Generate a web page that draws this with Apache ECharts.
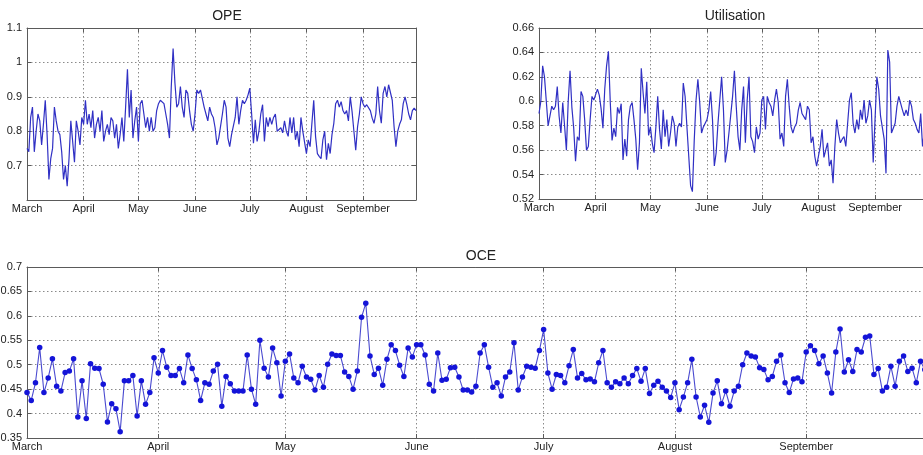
<!DOCTYPE html>
<html><head><meta charset="utf-8">
<script src="https://cdn.jsdelivr.net/npm/echarts@6/dist/echarts.min.js"></script>
<style>html,body{margin:0;padding:0;background:#fff}#c{width:923px;height:455px}</style>
</head><body><div id="c"></div>
<script>
const months = ['March','April','May','June','July','August','September'];
const monthDays = [31,30,31,30,31,31,30];
const opeTicks = [0.6, 1.1, 0.1];
const utilTicks = [0.52, 0.66, 0.02];
const oceTicks = [0.35, 0.7, 0.05];

const ope = [
0.75,0.74,0.84,0.87,0.74,0.80,0.85,0.83,0.76,0.82,
0.89,0.79,0.66,0.72,0.75,0.87,0.83,0.80,0.79,0.74,
0.66,0.70,0.64,0.72,0.83,0.77,0.71,0.83,0.80,0.76,
0.84,0.82,0.89,0.82,0.85,0.81,0.86,0.78,0.82,0.84,
0.80,0.86,0.77,0.80,0.82,0.79,0.84,0.83,0.78,0.82,
0.75,0.79,0.84,0.77,0.87,0.98,0.84,0.92,0.78,0.83,
0.87,0.77,0.88,0.89,0.85,0.81,0.84,0.80,0.84,0.80,
0.81,0.86,0.88,0.89,0.89,0.88,0.85,0.82,0.78,0.93,
1.04,0.94,0.87,0.88,0.93,0.87,0.84,0.92,0.91,0.86,
0.82,0.80,0.85,0.92,0.91,0.92,0.92,0.87,0.85,0.83,
0.87,0.85,0.84,0.81,0.76,0.78,0.78,0.85,0.89,0.87,0.78,
0.755,0.79,0.785,0.84,0.90,0.82,0.86,0.89,0.88,0.89,
0.905,0.925,0.85,0.765,0.833,0.77,0.80,0.85,0.877,0.77,
0.84,0.813,0.84,0.82,0.84,0.85,0.80,0.80,0.81,0.795,
0.83,0.80,0.785,0.84,0.795,0.84,0.775,0.80,0.755,0.84,
0.80,0.795,0.735,0.775,0.755,0.823,0.89,0.785,0.735,0.727,
0.72,0.775,0.80,0.717,0.765,0.735,0.79,0.823,0.88,0.89,
0.87,0.886,0.86,0.85,0.86,0.83,0.90,0.857,0.80,0.745,
0.813,0.85,0.90,0.88,0.87,0.877,0.88,0.86,0.838,0.823,
0.85,0.93,0.86,0.823,0.91,0.93,0.90,0.935,0.94,0.89,
0.813,0.755,0.80,0.82,0.833,0.88,0.90,0.877,0.85,0.833,
0.86,0.867,0.86];

const utilisation = [
0.59,0.60,0.629,0.62,0.60,0.58,0.588,0.596,0.593,0.596,
0.612,0.588,0.574,0.599,0.58,0.56,0.60,0.625,0.595,0.578,
0.551,0.571,0.568,0.608,0.604,0.585,0.56,0.563,0.585,0.604,
0.601,0.602,0.61,0.605,0.594,0.578,0.61,0.629,0.641,0.60,
0.568,0.578,0.571,0.595,0.59,0.598,0.552,0.569,0.555,0.585,
0.596,0.599,0.585,0.569,0.544,0.566,0.627,0.607,0.59,0.616,
0.572,0.579,0.566,0.558,0.579,0.604,0.577,0.561,0.593,0.571,
0.585,0.563,0.574,0.588,0.582,0.563,0.579,0.582,0.579,0.615,
0.604,0.579,0.555,0.531,0.526,0.568,0.601,0.618,0.599,0.574,
0.579,0.582,0.585,0.593,0.608,0.585,0.547,0.558,0.582,0.601,
0.62,0.593,0.55,0.56,0.574,0.574,0.604,0.625,0.596,0.571,
0.56,0.593,0.612,0.566,0.601,0.62,0.571,0.567,0.558,0.579,
0.569,0.574,0.601,0.604,0.577,0.604,0.599,0.596,0.588,0.601,
0.61,0.599,0.569,0.574,0.563,0.604,0.618,0.596,0.579,0.574,
0.579,0.582,0.593,0.599,0.59,0.59,0.585,0.596,0.593,0.566,
0.571,0.555,0.547,0.555,0.563,0.577,0.554,0.555,0.566,0.547,
0.552,0.533,0.563,0.585,0.574,0.566,0.569,0.571,0.563,0.582,
0.601,0.607,0.582,0.574,0.585,0.577,0.593,0.585,0.601,0.582,
0.588,0.601,0.593,0.55,0.585,0.62,0.61,0.588,0.588,0.569,
0.541,0.642,0.632,0.574,0.574,0.582,0.596,0.604,0.604,0.593,
0.588,0.593,0.588,0.601,0.596,0.585,0.582,0.577,0.574,0.59,
0.563,0.575,0.58,0.59];

const oce = [
0.443,0.427,0.463,0.535,0.443,0.473,0.512,0.456,0.446,0.484,
0.487,0.512,0.393,0.467,0.39,0.502,0.493,0.492,0.46,0.383,
0.42,0.41,0.363,0.467,0.467,0.478,0.395,0.467,0.419,0.443,
0.514,0.483,0.529,0.495,0.478,0.478,0.492,0.463,0.52,0.492,
0.469,0.427,0.463,0.46,0.487,0.501,0.415,0.476,0.461,0.446,
0.446,0.446,0.52,0.45,0.419,0.55,0.493,0.475,0.534,0.504,
0.436,0.507,0.522,0.473,0.463,0.497,0.475,0.47,0.448,0.478,
0.454,0.501,0.522,0.519,0.519,0.485,0.476,0.45,0.487,0.597,
0.626,0.518,0.48,0.493,0.458,0.511,0.541,0.529,0.499,0.476,
0.534,0.516,0.541,0.541,0.52,0.46,0.446,0.524,0.468,0.47,
0.494,0.495,0.475,0.448,0.448,0.444,0.456,0.524,0.541,0.495,
0.454,0.463,0.436,0.475,0.485,0.545,0.448,0.475,0.497,0.495,
0.493,0.529,0.572,0.483,0.45,0.48,0.478,0.463,0.498,0.531,
0.473,0.482,0.469,0.471,0.465,0.504,0.529,0.463,0.454,0.465,
0.461,0.473,0.461,0.478,0.492,0.466,0.492,0.441,0.458,0.466,
0.454,0.446,0.433,0.463,0.408,0.434,0.463,0.511,0.434,0.393,
0.417,0.382,0.442,0.467,0.42,0.446,0.415,0.446,0.456,0.5,
0.524,0.518,0.516,0.494,0.49,0.469,0.476,0.507,0.52,0.463,
0.443,0.471,0.473,0.465,0.526,0.539,0.529,0.502,0.518,0.483,
0.442,0.526,0.573,0.485,0.51,0.486,0.531,0.526,0.556,0.559,
0.48,0.492,0.446,0.454,0.497,0.456,0.507,0.518,0.486,0.493,
0.463,0.507,0.49,0.5];

const days = [];
months.forEach((m, i) => { for (let d = 1; d <= monthDays[i]; d++) days.push(m + ' ' + d); });
const isMonthStart = (idx, val) => / 1$/.test(val);

const FONT = 'Liberation Sans, Arial, sans-serif';
const frame = '#5a5a5a';
const dotted = { type: [1.5, 2.5], color: '#8a8a8a', width: 1 };

const grids = [
  { left: 27, top: 28, width: 389, height: 172, outerBoundsMode: 'none', containLabel: false },
  { left: 539, top: 28, width: 389, height: 171, outerBoundsMode: 'none', containLabel: false },
  { left: 27, top: 267, width: 902, height: 171, outerBoundsMode: 'none', containLabel: false }
];
const ticks = [opeTicks, utilTicks, oceTicks];

const xAxis = [], yAxis = [];
grids.forEach((g, gi) => {
  xAxis.push({
    type: 'category', gridIndex: gi, data: days, boundaryGap: false, position: 'bottom',
    axisLine: { lineStyle: { color: frame, width: 1 } },
    axisTick: { inside: true, length: 4, interval: isMonthStart, lineStyle: { color: frame } },
    axisLabel: { interval: isMonthStart, formatter: v => v.split(' ')[0], color: '#222', fontSize: 11, fontFamily: FONT, margin: 3 },
    splitLine: { show: true, interval: isMonthStart, lineStyle: dotted }
  });
  xAxis.push({
    type: 'category', gridIndex: gi, data: days, boundaryGap: false, position: 'top',
    axisLine: { lineStyle: { color: frame, width: 1 } },
    axisTick: { inside: true, length: 4, interval: isMonthStart, lineStyle: { color: frame } },
    axisLabel: { show: false }, splitLine: { show: false }
  });
  const t = ticks[gi];
  yAxis.push({
    type: 'value', gridIndex: gi, min: t[0], max: t[1], interval: t[2], position: 'left',
    axisLine: { show: true, lineStyle: { color: frame, width: 1 } },
    axisTick: { show: true, inside: true, length: 4, lineStyle: { color: frame } },
    axisLabel: { color: '#222', fontSize: 11, fontFamily: FONT, margin: 5, showMinLabel: gi !== 0 },
    splitLine: { show: true, lineStyle: dotted }
  });
  yAxis.push({
    type: 'value', gridIndex: gi, min: t[0], max: t[1], interval: t[2], position: 'right',
    axisLine: { show: true, lineStyle: { color: frame, width: 1 } },
    axisTick: { show: true, inside: true, length: 4, lineStyle: { color: frame } },
    axisLabel: { show: false }, splitLine: { show: false }
  });
});

const titleStyle = { fontSize: 14, fontWeight: 'normal', color: '#222', fontFamily: FONT };
const chart = echarts.init(document.getElementById('c'), null, { renderer: 'canvas' });
chart.setOption({
  backgroundColor: '#fff',
  animation: false,
  title: [
    { text: 'OPE', left: 222, top: 4, textAlign: 'center', textStyle: titleStyle },
    { text: 'Utilisation', left: 730, top: 4, textAlign: 'center', textStyle: titleStyle },
    { text: 'OCE', left: 476, top: 244, textAlign: 'center', textStyle: titleStyle }
  ],
  grid: grids,
  xAxis: xAxis,
  yAxis: yAxis,
  series: [
    { type: 'line', name: 'OPE', xAxisIndex: 0, yAxisIndex: 0, data: ope, showSymbol: false, symbol: 'none',
      lineStyle: { color: '#3030c4', width: 1.2 } },
    { type: 'line', name: 'Utilisation', xAxisIndex: 2, yAxisIndex: 2, data: utilisation, showSymbol: false, symbol: 'none',
      lineStyle: { color: '#3030c4', width: 1.2 } },
    { type: 'line', name: 'OCE', xAxisIndex: 4, yAxisIndex: 4, data: oce, symbol: 'circle', symbolSize: 5.5, showAllSymbol: true,
      itemStyle: { color: '#1414d8', borderWidth: 0 }, lineStyle: { color: '#4a4ad0', width: 1.1 } }
  ]
});
</script></body></html>
